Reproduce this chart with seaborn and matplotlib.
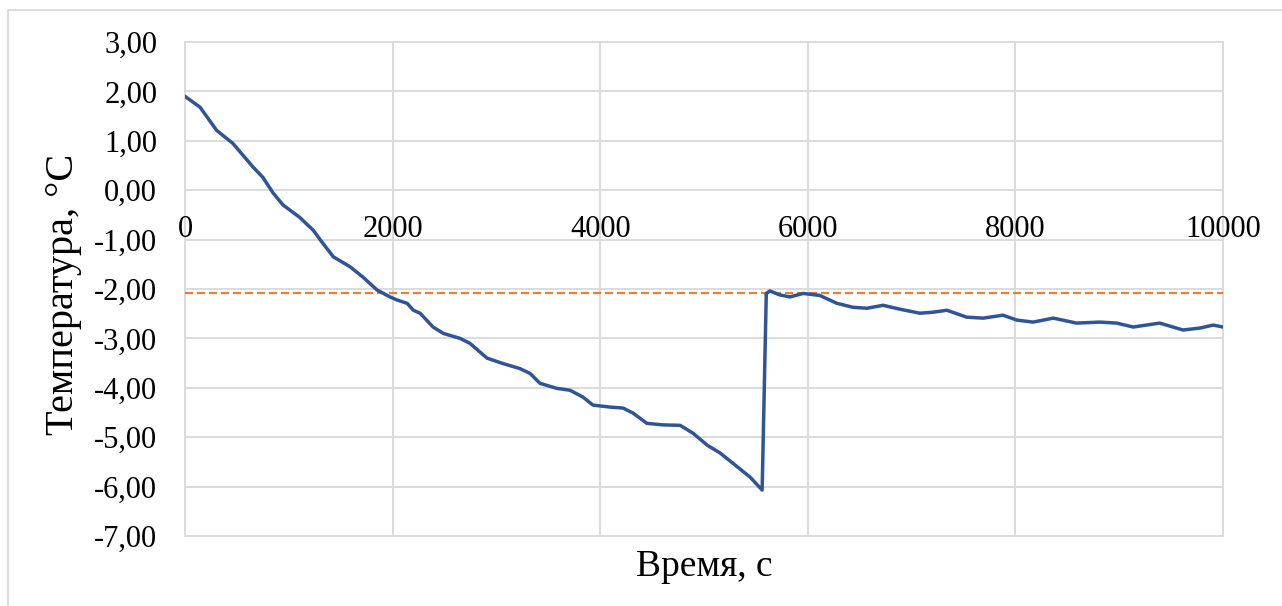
import numpy as np
import pandas as pd
import matplotlib.pyplot as plt
import seaborn as sns
from matplotlib.patches import Rectangle
from matplotlib.ticker import FixedLocator, FixedFormatter

# данные
time_s = [0, 145, 305, 460, 655, 750, 850, 945, 1105, 1235, 1330, 1430, 1590, 1715,
          1850, 1975, 2040, 2140, 2200, 2265, 2390, 2490, 2650, 2745, 2910, 3065, 3225,
          3325, 3420, 3580, 3710, 3835, 3930, 4095, 4220, 4315, 4450, 4600, 4770, 4895,
          5030, 5155, 5280, 5445, 5560, 5600, 5635, 5730, 5830, 5955, 6115, 6280, 6435,
          6570, 6725, 6890, 7080, 7205, 7340, 7530, 7690, 7880, 8015, 8170, 8365, 8590,
          8815, 8975, 9135, 9390, 9615, 9780, 9905, 10000]
temp_c = [1.90, 1.68, 1.21, 0.95, 0.47, 0.26, -0.06, -0.30, -0.55, -0.81, -1.08, -1.35,
          -1.55, -1.76, -2.02, -2.16, -2.22, -2.29, -2.43, -2.49, -2.77, -2.90, -3.00,
          -3.10, -3.40, -3.51, -3.61, -3.71, -3.91, -4.01, -4.05, -4.19, -4.35, -4.39,
          -4.41, -4.51, -4.72, -4.75, -4.76, -4.92, -5.16, -5.32, -5.53, -5.81, -6.07,
          -2.09, -2.04, -2.12, -2.16, -2.09, -2.13, -2.29, -2.37, -2.39, -2.33, -2.41,
          -2.49, -2.47, -2.43, -2.57, -2.59, -2.53, -2.63, -2.67, -2.59, -2.69, -2.67,
          -2.69, -2.77, -2.69, -2.83, -2.79, -2.73, -2.77]
threshold = -2.09

x_ticks = [0, 2000, 4000, 6000, 8000, 10000]
x_tick_labels = ["0", "2000", "4000", "6000", "8000", "10000"]
y_ticks = [3, 2, 1, 0, -1, -2, -3, -4, -5, -6, -7]
y_tick_labels = ["3,00", "2,00", "1,00", "0,00", "-1,00", "-2,00", "-3,00",
                 "-4,00", "-5,00", "-6,00", "-7,00"]

sns.set_style("white")
plt.rcParams['font.family'] = ['Liberation Serif', 'DejaVu Serif']
plt.rcParams['text.color'] = 'black'
plt.rcParams['xtick.color'] = 'black'
plt.rcParams['ytick.color'] = 'black'
plt.rcParams['axes.labelcolor'] = 'black'

W, H = 1282, 606
fig = plt.figure(figsize=(W / 100, H / 100), dpi=100)
ax = fig.add_axes([185 / W, 1 - 536 / H, (1223 - 185) / W, (536 - 42) / H])

df = pd.DataFrame({"t": time_s, "T": temp_c})
sns.lineplot(data=df, x="t", y="T", color="#2F5597", linewidth=2.5, ax=ax,
             sort=False, zorder=3)
ax.axhline(threshold, color="#ED7D31", linewidth=1.6, dashes=(3.6, 1.8), zorder=2)

ax.set_xlim(0, 10000)
ax.set_ylim(-7, 3)
ax.xaxis.set_major_locator(FixedLocator(x_ticks))
ax.xaxis.set_major_formatter(FixedFormatter(x_tick_labels))
ax.yaxis.set_major_locator(FixedLocator(y_ticks))
ax.yaxis.set_major_formatter(FixedFormatter(y_tick_labels))

# подписи оси X на линии y = 0, как в Excel
ax.spines['bottom'].set_position(('data', 0))
for s in ax.spines.values():
    s.set_visible(False)
ax.tick_params(axis='x', length=0, pad=18, labelsize=22)
ax.tick_params(axis='y', length=0, pad=20, labelsize=22)

ax.grid(True, color="#d9d9d9", linewidth=1.3)
for ln in ax.get_xgridlines() + ax.get_ygridlines():
    ln.set_clip_on(False)

ax.set_xlabel("Время, с", fontsize=27)
ax.set_ylabel("Температура, °С", fontsize=29)
ax.xaxis.set_label_coords(0.5, -0.027)
ax.yaxis.set_label_coords(-0.099, 0.49)

# рамка области диаграммы
fig.patches.append(Rectangle((8 / W, -0.05), 1.1, 1 - 10 / H + 0.05,
                             transform=fig.transFigure, fill=False,
                             edgecolor="#d9d9d9", linewidth=1.3))

fig.savefig("out.png", dpi=100)
